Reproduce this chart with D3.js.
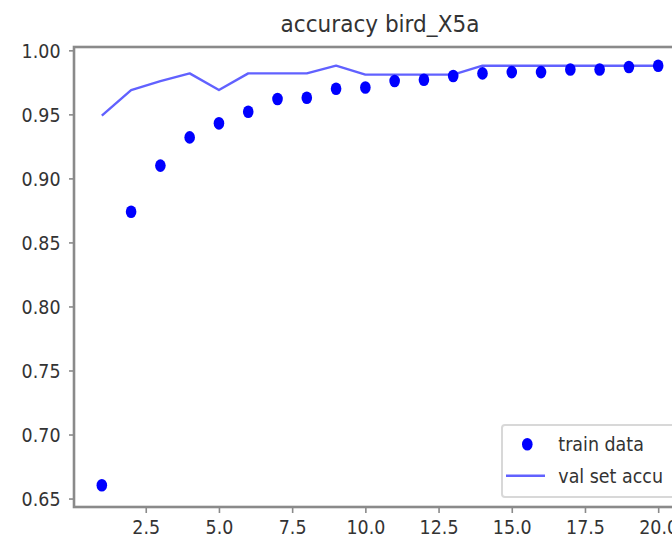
<!DOCTYPE html>
<html>
<head>
<meta charset="utf-8">
<script src="https://cdn.jsdelivr.net/npm/d3@7"></script>
<style>
  html, body { margin: 0; padding: 0; background: #fff; }
  svg { display: block; }
  text { font-family: "DejaVu Sans", sans-serif; fill: #333; }
</style>
</head>
<body>
<svg id="chart" width="672" height="540"></svg>
<script>
const title = "accuracy bird_X5a";
const epochs = [1,2,3,4,5,6,7,8,9,10,11,12,13,14,15,16,17,18,19,20];
const trainAcc = [0.6604, 0.874, 0.910, 0.932, 0.943, 0.952, 0.962, 0.963, 0.970, 0.971,
                  0.976, 0.977, 0.980, 0.982, 0.983, 0.983, 0.985, 0.985, 0.987, 0.988];
const valAcc = [0.949, 0.969, 0.976, 0.982, 0.969, 0.982, 0.982, 0.982, 0.988, 0.981,
                0.981, 0.981, 0.981, 0.988, 0.988, 0.988, 0.988, 0.988, 0.988, 0.988];
const xTicks = [2.5, 5.0, 7.5, 10.0, 12.5, 15.0, 17.5, 20.0];
const yTicks = [0.65, 0.70, 0.75, 0.80, 0.85, 0.90, 0.95, 1.00];
const legendLabels = ["train data", "val set accu"];

const svg = d3.select("#chart");
const L = 74, R = 686, T = 47, B = 507;
const x = d3.scaleLinear().domain([0.05, 20.95]).range([L, R]);
const y = d3.scaleLinear().domain([0.6434, 1.0026]).range([B, T]);
const SX = 0.92;
const spineColor = "#8a8a8a";

// title
svg.append("text")
  .attr("transform", `translate(${(L + R) / 2},31.5) scale(${SX},1)`)
  .attr("text-anchor", "middle")
  .attr("font-size", 23.5)
  .text(title);

// axes
const yAxis = svg.append("g").attr("transform", `translate(${L},0)`)
  .call(d3.axisLeft(y).tickValues(yTicks).tickFormat(d3.format(".2f")).tickSize(5).tickPadding(0));
const xAxis = svg.append("g").attr("transform", `translate(0,${B})`)
  .call(d3.axisBottom(x).tickValues(xTicks).tickFormat(d3.format(".1f")).tickSize(6).tickPadding(0));
[yAxis, xAxis].forEach(g => {
  g.select(".domain").remove();
  g.selectAll(".tick line").attr("stroke", spineColor).attr("stroke-width", 1.6);
});
yAxis.selectAll(".tick text")
  .attr("x", null).attr("dy", null)
  .attr("transform", `translate(-13.5,0) scale(${SX},1)`)
  .attr("dy", "0.36em")
  .attr("font-size", 19).attr("font-family", "DejaVu Sans").attr("fill", "#333");
xAxis.selectAll(".tick text")
  .attr("y", null).attr("dy", null)
  .attr("transform", `translate(0,13) scale(${SX},1)`)
  .attr("dy", "0.76em")
  .attr("font-size", 19).attr("font-family", "DejaVu Sans").attr("fill", "#333");

// val line
const line = d3.line().x((d, i) => x(epochs[i])).y(d => y(d));
svg.append("path")
  .datum(valAcc)
  .attr("d", line)
  .attr("fill", "none")
  .attr("stroke", "#0000ff")
  .attr("stroke-opacity", 0.62)
  .attr("stroke-width", 2.4)
  .attr("stroke-linejoin", "round");

// train points
svg.append("g").selectAll("ellipse")
  .data(trainAcc)
  .join("ellipse")
  .attr("cx", (d, i) => x(epochs[i]))
  .attr("cy", d => y(d))
  .attr("rx", 5.3)
  .attr("ry", 6.3)
  .attr("fill", "#0000ff");

// spines
svg.append("rect")
  .attr("x", L).attr("y", T).attr("width", R - L).attr("height", B - T)
  .attr("fill", "none").attr("stroke", spineColor).attr("stroke-width", 2.6);

// legend
const lg = svg.append("g");
lg.append("rect")
  .attr("x", 502).attr("y", 425).attr("width", 200).attr("height", 72).attr("rx", 3)
  .attr("fill", "#fff").attr("fill-opacity", 0.85)
  .attr("stroke", "#d8d8d8").attr("stroke-width", 2);
lg.append("ellipse").attr("cx", 527.3).attr("cy", 444.3).attr("rx", 5.3).attr("ry", 6.3).attr("fill", "#0000ff");
lg.append("line").attr("x1", 506).attr("x2", 545).attr("y1", 475.7).attr("y2", 475.7)
  .attr("stroke", "#0000ff").attr("stroke-opacity", 0.62).attr("stroke-width", 2.4);
lg.selectAll("text.lbl")
  .data(legendLabels)
  .join("text")
  .attr("class", "lbl")
  .attr("transform", (d, i) => `translate(558.3,${444.5 + i * 31.5}) scale(${SX},1)`)
  .attr("dy", "0.36em")
  .attr("font-size", 19)
  .text(d => d);
</script>
</body>
</html>
